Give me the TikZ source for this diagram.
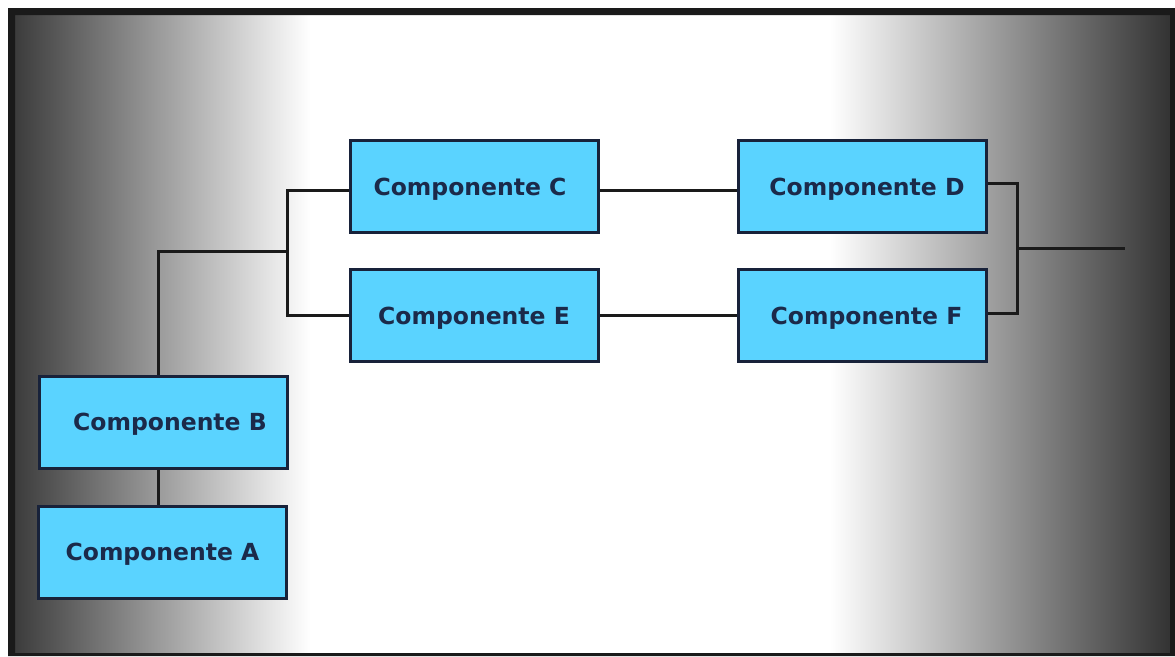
\documentclass[tikz,border=0pt]{standalone}
\usepackage{fontspec}
\setmainfont{DejaVu Sans}
\definecolor{frame}{HTML}{1A1A1A}
\definecolor{boxfill}{HTML}{5AD3FF}
\definecolor{boxline}{HTML}{18223A}
\definecolor{boxtext}{HTML}{1B2A4A}
\definecolor{wire}{HTML}{1A1A1A}
\definecolor{edgeL}{HTML}{3C3C3C}
\definecolor{edgeR}{HTML}{333333}
\tikzset{
  comp/.style={draw=boxline, line width=3pt, fill=boxfill, text=boxtext,
    font=\fontsize{23.5}{28}\selectfont\bfseries, text depth=0pt,
    minimum width=248pt, minimum height=92pt, inner sep=0pt},
  wire/.style={draw=wire, line width=3pt},
}
% shift a label sideways inside its box
\newcommand{\pushright}[2]{\hspace*{#1}#2}
\newcommand{\pushleft}[2]{#2\hspace*{#1}}
\begin{document}
\begin{tikzpicture}[x=1pt, y=-1pt]
  \useasboundingbox (0,0) rectangle (1175,656);
  % shaded backdrop
  \fill[white] (15,15) rectangle (1170,653);
  \shade[left color=edgeL, right color=white] (15,15) rectangle (310,653);
  \shade[left color=white, right color=edgeR] (830,15) rectangle (1170,653);
  % dark frame round it
  \fill[frame, even odd rule] (8,8) rectangle (1175,656) (15,15) rectangle (1170,653);

  % components
  \node[comp] (C) at (474,186.5) {\pushleft{8pt}{Componente C}};
  \node[comp] (D) at (862,186.5) {\pushright{10pt}{Componente D}};
  \node[comp] (E) at (474,315.5) {Componente E};
  \node[comp] (F) at (862,315.5) {\pushright{9pt}{Componente F}};
  \node[comp] (B) at (163,422) {\pushright{14pt}{Componente B}};
  \node[comp] (A) at (162.5,552) {Componente A};

  % junction points
  \coordinate (jB) at (158,251);
  \coordinate (busL) at (287,251);
  \coordinate (busR) at (1017,248);
  \coordinate (out) at (1125,248);

  % connectors
  \draw[wire] (A.north -| jB) -- (B.south -| jB);
  \draw[wire] (B.north -| jB) |- (busL);
  \draw[wire] ([yshift=-3.5pt]C.west) -| (E.west -| busL) -- (E.west);
  \draw[wire] ([yshift=-3.5pt]C.east) -- ([yshift=-3.5pt]C.east -| D.west);
  \draw[wire] (E.east) -- (F.west);
  \draw[wire] ([yshift=3.5pt]D.east) -| (busR) |- ([yshift=2.5pt]F.east);
  \draw[wire] (busR) -- (out);
\end{tikzpicture}
\end{document}
